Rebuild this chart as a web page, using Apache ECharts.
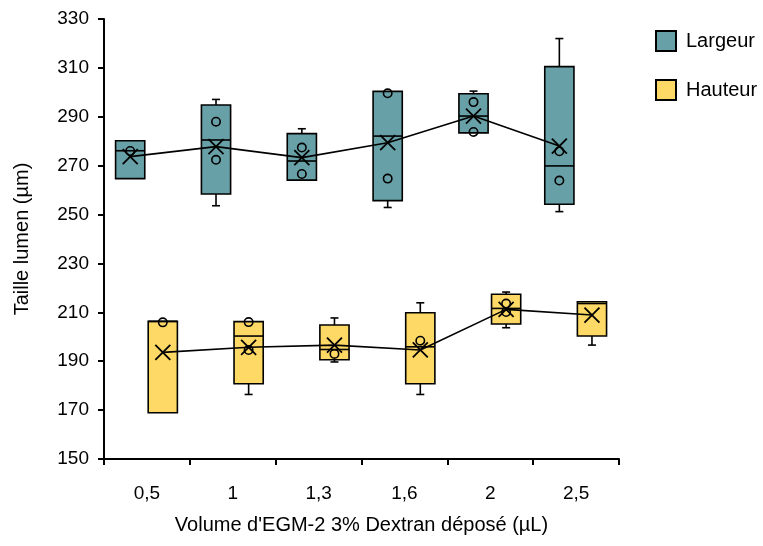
<!DOCTYPE html>
<html><head><meta charset="utf-8">
<script src="https://cdn.jsdelivr.net/npm/echarts@6/dist/echarts.min.js"></script>
<style>html,body{margin:0;padding:0;background:#fff}#c{width:763px;height:546px}</style>
</head><body><div id="c"></div>
<script>
const categories = ['0,5', '1', '1,3', '1,6', '2', '2,5'];
const yTicks = [150, 170, 190, 210, 230, 250, 270, 290, 310, 330];

const largeurMin    = [264.7, 253.6, 264.0, 252.9, 283.4, 251.2];
const largeurQ1     = [264.7, 258.4, 264.1, 255.7, 283.4, 254.2];
const largeurMedian = [276.1, 280.5, 271.9, 282.1, 290.3, 269.9];
const largeurQ3     = [280.2, 294.8, 283.1, 300.4, 299.4, 310.5];
const largeurMax    = [280.2, 297.1, 285.1, 300.4, 300.5, 322.0];
const largeurMean   = [273.7, 277.8, 273.3, 279.4, 290.3, 278.0];
const largeurPoints = [[276.0], [288.0, 272.4], [277.4, 266.6], [299.6, 264.7], [296.0, 283.8], [275.9, 263.9]];

const hauteurMin    = [168.9, 176.4, 189.7, 176.4, 203.7, 196.6];
const hauteurQ1     = [168.9, 180.8, 190.6, 180.8, 205.2, 200.3];
const hauteurMedian = [206.3, 200.3, 194.8, 195.9, 211.6, 213.6];
const hauteurQ3     = [206.3, 206.2, 204.8, 209.8, 217.4, 214.3];
const hauteurMax    = [206.3, 206.2, 207.7, 213.9, 218.3, 214.6];
const hauteurMean   = [193.6, 195.7, 196.6, 194.6, 211.2, 208.9];
const hauteurPoints = [[205.9], [206.0, 194.6], [193.0], [198.4], [213.6, 210.1], []];

const FONT = 'Arial, "Liberation Sans", sans-serif';
const TEAL = '#67A0A6';
const GOLD = '#FFD966';
const BOX_W = 0.34;
const OFF_L = -0.195;
const OFF_H = 0.185;

function makeSeries(name, color, off, mn, q1, med, q3, mx, mean, pts) {
  const data = categories.map((c, i) => [i, mn[i], q1[i], med[i], q3[i], mx[i]]);
  const box = {
    name: name, type: 'custom', z: 2,
    itemStyle: { color: color, borderColor: '#000', borderWidth: 1.5 },
    encode: { x: 0, y: [1, 2, 3, 4, 5] },
    data: data,
    renderItem: function (params, api) {
      const i = params.dataIndex;
      const band = api.size([1, 0])[0];
      const cx = api.coord([i, 200])[0] + off * band;
      const hw = BOX_W * band / 2;
      const y = v => api.coord([i, v])[1];
      const ls = { stroke: '#000', lineWidth: 1.6 };
      const ch = [];
      if (mx[i] - q3[i] > 0.3) {
        ch.push({ type: 'line', shape: { x1: cx, y1: y(q3[i]), x2: cx, y2: y(mx[i]) }, style: ls });
        ch.push({ type: 'line', shape: { x1: cx - 4, y1: y(mx[i]), x2: cx + 4, y2: y(mx[i]) }, style: ls });
      }
      if (q1[i] - mn[i] > 0.3) {
        ch.push({ type: 'line', shape: { x1: cx, y1: y(q1[i]), x2: cx, y2: y(mn[i]) }, style: ls });
        ch.push({ type: 'line', shape: { x1: cx - 4, y1: y(mn[i]), x2: cx + 4, y2: y(mn[i]) }, style: ls });
      }
      ch.push({ type: 'rect', shape: { x: cx - hw, y: y(q3[i]), width: 2 * hw, height: y(q1[i]) - y(q3[i]) },
        style: { fill: color, stroke: '#000', lineWidth: 1.6 } });
      ch.push({ type: 'line', shape: { x1: cx - hw, y1: y(med[i]), x2: cx + hw, y2: y(med[i]) }, style: ls });
      pts[i].forEach(p => ch.push({ type: 'circle', shape: { cx: cx, cy: y(p), r: 4.2 },
        style: { fill: 'none', stroke: '#000', lineWidth: 1.6 } }));
      const ym = y(mean[i]), s = 7.5;
      const xs = { stroke: '#000', lineWidth: 1.8 };
      ch.push({ type: 'line', shape: { x1: cx - s, y1: ym - s, x2: cx + s, y2: ym + s }, style: xs });
      ch.push({ type: 'line', shape: { x1: cx - s, y1: ym + s, x2: cx + s, y2: ym - s }, style: xs });
      return { type: 'group', children: ch };
    }
  };
  const line = {
    name: name + ' moyenne', type: 'line', xAxisIndex: 1, z: 3, symbol: 'none',
    lineStyle: { color: '#000', width: 1.6 }, silent: true,
    data: mean.map((m, i) => [i + off, m])
  };
  return [box, line];
}

const chart = echarts.init(document.getElementById('c'), null, { renderer: 'canvas' });
chart.setOption({
  animation: false,
  backgroundColor: '#fff',
  textStyle: { fontFamily: FONT },
  grid: { left: 104, right: 144, top: 19, bottom: 87 },
  legend: {
    data: ['Largeur', 'Hauteur'], orient: 'vertical', left: 655, top: 30, padding: 0,
    icon: 'rect', itemWidth: 20, itemHeight: 20, itemGap: 27,
    textStyle: { fontSize: 20, color: '#000', fontFamily: FONT, padding: [0, 0, 0, 5] }
  },
  xAxis: [{
    type: 'category', data: categories,
    axisLine: { onZero: false, lineStyle: { color: '#000', width: 2 } },
    axisTick: { show: true, length: 6, lineStyle: { color: '#000', width: 2 } },
    axisLabel: { color: '#000', fontSize: 19, margin: 25, fontFamily: FONT },
    name: "Volume d'EGM-2 3% Dextran déposé (µL)", nameLocation: 'middle', nameGap: 56,
    nameTextStyle: { color: '#000', fontSize: 20, fontFamily: FONT },
    splitLine: { show: false }
  }, {
    type: 'value', min: -0.5, max: 5.5, show: false
  }],
  yAxis: {
    type: 'value', min: yTicks[0], max: yTicks[yTicks.length - 1], interval: 20,
    axisLine: { show: true, onZero: false, lineStyle: { color: '#000', width: 2 } },
    axisTick: { show: true, length: 6, lineStyle: { color: '#000', width: 2 } },
    axisLabel: { color: '#000', fontSize: 19, margin: 15, fontFamily: FONT },
    splitLine: { show: false },
    name: 'Taille lumen (µm)', nameLocation: 'middle', nameGap: 72, nameRotate: 90,
    nameTextStyle: { color: '#000', fontSize: 20, fontFamily: FONT }
  },
  series: [].concat(
    makeSeries('Largeur', TEAL, OFF_L, largeurMin, largeurQ1, largeurMedian, largeurQ3, largeurMax, largeurMean, largeurPoints),
    makeSeries('Hauteur', GOLD, OFF_H, hauteurMin, hauteurQ1, hauteurMedian, hauteurQ3, hauteurMax, hauteurMean, hauteurPoints)
  )
});
</script></body></html>
